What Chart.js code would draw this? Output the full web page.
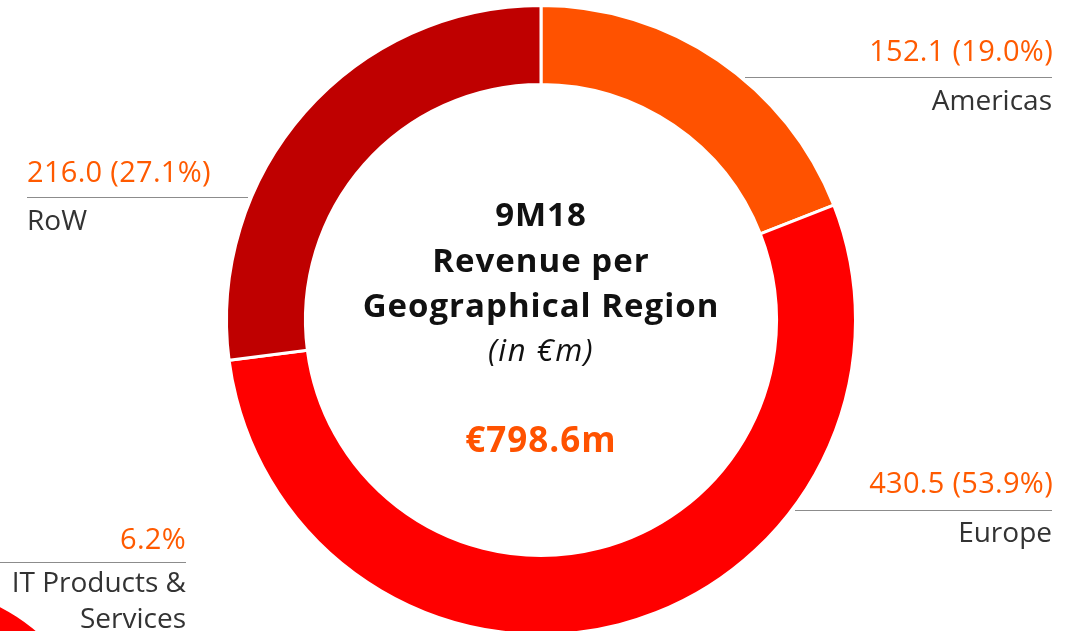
<!DOCTYPE html>
<html>
<head>
<meta charset="utf-8">
<script src="https://cdn.jsdelivr.net/npm/chart.js@4.4.1/dist/chart.umd.min.js"></script>
<style>
  body { margin: 0; background: #fff; }
  #wrap { position: relative; width: 1079px; height: 631px; overflow: hidden; font-family: "Open Sans", sans-serif; }
  #wrap canvas { position: absolute; }
  .txt { position: absolute; white-space: nowrap; line-height: 1; }
  .val { color: #ff5a00; font-size: 29px; letter-spacing: 0.3px; }
  .lab { color: #333; font-size: 28px; }
  .rule { position: absolute; height: 0; border-top: 1.5px solid #8c8c8c; }
  .mid { position: absolute; left: 291px; width: 500px; text-align: center; color: #111; line-height: 1; }
</style>
</head>
<body>
<div id="wrap">
  <canvas id="otherCanvas" width="400" height="400" style="left:-292px; top:583px;"></canvas>
  <canvas id="graphCanvas" width="1079" height="631" style="left:0; top:0;"></canvas>
</div>
<script>
// datos
var regiones = ['Americas', 'Europe', 'RoW'];
var valores = [152.1, 430.5, 216.0];
var porcentajes = ['19.0%', '53.9%', '27.1%'];
var colores = ['#ff5200', '#ff0000', '#bf0000'];
var total = '€798.6m';

// grafico de segmentos (solo se ve un trozo abajo a la izquierda)
var segmentos = ['IT Products & Services', 'Other'];
var segValores = [6.2, 93.8];
var segColores = ['#ff0000', '#bf0000'];

function addText(cls, text, x, base, align) {
    var d = document.createElement('div');
    d.className = 'txt ' + cls;
    d.textContent = text;
    var fs = cls == 'val' ? 29 : 28;
    d.style.top = (base - fs * 0.9) + 'px';
    if (align == 'right') {
        d.style.right = (1079 - x) + 'px';
    } else {
        d.style.left = x + 'px';
    }
    document.getElementById('wrap').appendChild(d);
}

function addRule(x1, x2, y) {
    var d = document.createElement('div');
    d.className = 'rule';
    d.style.left = x1 + 'px';
    d.style.width = (x2 - x1) + 'px';
    d.style.top = y + 'px';
    document.getElementById('wrap').appendChild(d);
}

function addMid(text, base, fs, style) {
    var d = document.createElement('div');
    d.className = 'mid';
    d.textContent = text;
    d.style.fontSize = fs + 'px';
    d.style.top = (base - fs * 0.9) + 'px';
    for (var k in style) {
        d.style[k] = style[k];
    }
    document.getElementById('wrap').appendChild(d);
}

function showDonutGraph() {
    window.grafica = new Chart(document.getElementById('graphCanvas'), {
        type: 'doughnut',
        data: {
            labels: regiones,
            datasets: [{
                data: valores,
                backgroundColor: colores,
                borderColor: '#ffffff',
                borderWidth: 3
            }]
        },
        options: {
            responsive: false,
            animation: false,
            radius: 314.5,
            cutout: '74.9%',
            layout: { padding: { left: 3, top: 9 } },
            plugins: { legend: { display: false }, tooltip: { enabled: false } }
        }
    });

    new Chart(document.getElementById('otherCanvas'), {
        type: 'doughnut',
        data: {
            labels: segmentos,
            datasets: [{
                data: segValores,
                backgroundColor: segColores,
                borderColor: '#ffffff',
                borderWidth: 3
            }]
        },
        options: {
            responsive: false,
            animation: false,
            rotation: 22,
            radius: 200,
            cutout: '76%',
            plugins: { legend: { display: false }, tooltip: { enabled: false } }
        }
    });
}

showDonutGraph();

// etiquetas
addText('val', valores[0].toFixed(1) + ' (' + porcentajes[0] + ')', 1053, 61, 'right');
addRule(745, 1052, 77);
addText('lab', regiones[0], 1052, 110, 'right');

addText('val', valores[2].toFixed(1) + ' (' + porcentajes[2] + ')', 27, 182, 'left');
addRule(27, 248, 197);
addText('lab', regiones[2], 27, 230, 'left');

addText('val', valores[1].toFixed(1) + ' (' + porcentajes[1] + ')', 1053, 493, 'right');
addRule(795, 1052, 510);
addText('lab', regiones[1], 1052, 542, 'right');

addText('val', segValores[0] + '%', 186, 549, 'right');
addRule(0, 186, 562);
addText('lab', 'IT Products &', 186, 592, 'right');
addText('lab', 'Services', 186, 628, 'right');

// centro
addMid('9M18', 227, 33, { fontWeight: 'bold', letterSpacing: '1px' });
addMid('Revenue per', 273, 33, { fontWeight: 'bold', letterSpacing: '1px' });
addMid('Geographical Region', 318, 33, { fontWeight: 'bold', letterSpacing: '1px' });
addMid('(in €m)', 362, 31, { fontStyle: 'italic', letterSpacing: '1.5px' });
addMid(total, 452, 35, { fontWeight: 'bold', color: '#ff5200', letterSpacing: '1px' });
</script>
</body>
</html>
